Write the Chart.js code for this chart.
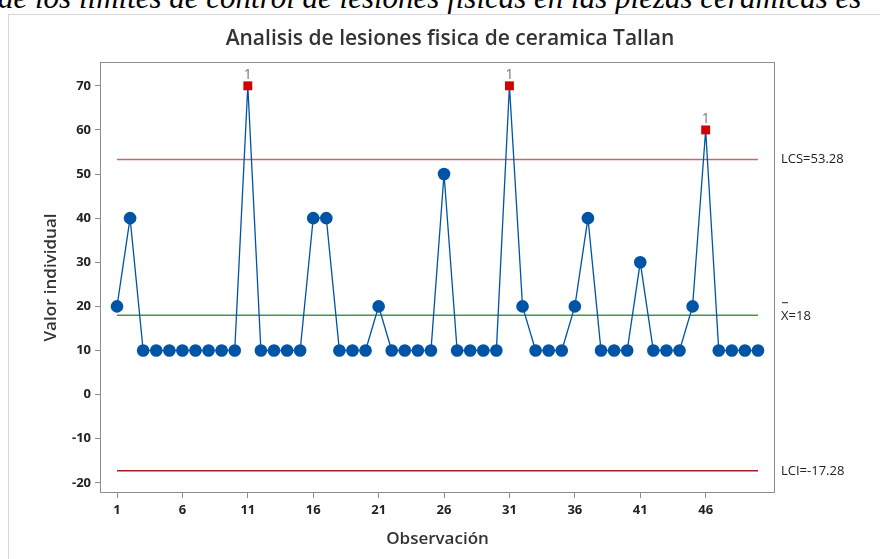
<!DOCTYPE html>
<html>
<head>
<meta charset="utf-8">
<script src="https://cdn.jsdelivr.net/npm/chart.js@4"></script>
<style>
  html, body { margin: 0; padding: 0; background: #fff; overflow: hidden; }
  #wrap { position: relative; width: 880px; height: 559px; }
  #cap { position: absolute; left: -2px; top: -20px; white-space: nowrap;
         font: italic 31px "Liberation Serif", serif; color: #000; }
  canvas { position: absolute; left: 0; top: 0; }
</style>
</head>
<body>
<div id="wrap">
  <div id="cap">de los límites de control de lesiones físicas en las piezas cerámicas es</div>
  <canvas id="chartI" width="880" height="559"></canvas>
</div>
<script>
// ============= DATOS =============
const observaciones = [];
for (let i = 1; i <= 50; i++) observaciones.push(i);
const valores = [20, 40, 10, 10, 10, 10, 10, 10, 10, 10,
                 70, 10, 10, 10, 10, 40, 40, 10, 10, 10,
                 20, 10, 10, 10, 10, 50, 10, 10, 10, 10,
                 70, 20, 10, 10, 10, 20, 40, 10, 10, 10,
                 30, 10, 10, 10, 20, 60, 10, 10, 10, 10];
const LCS = 53.28;
const MEDIA = 18;
const LCI = -17.28;
const xTicks = [1, 6, 11, 16, 21, 26, 31, 36, 41, 46];
const yTicks = [-20, -10, 0, 10, 20, 30, 40, 50, 60, 70];

// ============= CORES =============
const CORES = {
    azul: '#0054a6',
    rojo: '#d40000',
    lcs: '#c06a6a',
    lci: '#a31f24',
    verde: '#3f9a46',
    eje: '#8c8c8c',
    texto: '#333333'
};

const fuera = valores.map(v => v > LCS || v < LCI);
const puntos = observaciones.map((o, i) => ({ x: o, y: valores[i] }));
const linea = (y) => [{ x: observaciones[0], y }, { x: observaciones[observaciones.length - 1], y }];

const decoraciones = {
    id: 'decoraciones',
    beforeDraw(chart) {
        const ctx = chart.ctx;
        ctx.save();
        ctx.strokeStyle = '#d6d6d6';
        ctx.lineWidth = 1;
        ctx.strokeRect(8.5, 14.5, 900, 600);
        ctx.restore();
    },
    afterDraw(chart) {
        const { ctx, chartArea: a, scales: { x, y } } = chart;
        ctx.save();
        // marco del area
        ctx.strokeStyle = CORES.eje;
        ctx.lineWidth = 1;
        ctx.strokeRect(a.left + 0.5, a.top + 0.5, a.right - a.left - 1, a.bottom - a.top - 1);

        // titulo
        ctx.fillStyle = CORES.texto;
        ctx.font = '600 21px "Open Sans"';
        ctx.textAlign = 'center';
        ctx.textBaseline = 'middle';
        ctx.fillText('Analisis de lesiones fisica de ceramica Tallan', 450, 39);

        // etiquetas "1"
        ctx.fillStyle = '#777';
        ctx.font = '14px "Open Sans"';
        ctx.textBaseline = 'alphabetic';
        puntos.forEach((p, i) => {
            if (fuera[i]) ctx.fillText('1', x.getPixelForValue(p.x), y.getPixelForValue(p.y) - 7);
        });

        // etiquetas de limites
        ctx.fillStyle = '#222';
        ctx.font = '13px "Open Sans"';
        ctx.textAlign = 'left';
        ctx.textBaseline = 'middle';
        const lx = a.right + 6;
        ctx.fillText('LCS=' + LCS.toFixed(2), lx, y.getPixelForValue(LCS));
        ctx.fillText('LCI=' + LCI.toFixed(2), lx, y.getPixelForValue(LCI));
        const ym = y.getPixelForValue(MEDIA) + 1;
        ctx.fillText('X=' + MEDIA, lx, ym);
        ctx.strokeStyle = '#222';
        ctx.beginPath();
        ctx.moveTo(lx + 1, ym - 13.5);
        ctx.lineTo(lx + 7, ym - 13.5);
        ctx.stroke();
        ctx.restore();
    }
};

new Chart(document.getElementById('chartI'), {
    type: 'line',
    data: {
        datasets: [
            { data: linea(LCS), borderColor: CORES.lcs, borderWidth: 1.5, pointRadius: 0, order: 3 },
            { data: linea(MEDIA), borderColor: CORES.verde, borderWidth: 1.5, pointRadius: 0, order: 3 },
            { data: linea(LCI), borderColor: CORES.lci, borderWidth: 1.5, pointRadius: 0, order: 3 },
            {
                data: puntos,
                borderColor: CORES.azul,
                borderWidth: 1.3,
                tension: 0,
                pointRadius: 6.3,
                pointStyle: fuera.map(f => f ? 'rect' : 'circle'),
                pointBackgroundColor: fuera.map(f => f ? CORES.rojo : CORES.azul),
                pointBorderColor: fuera.map(f => f ? CORES.rojo : CORES.azul),
                pointBorderWidth: 0,
                order: 1
            }
        ]
    },
    options: {
        responsive: false,
        animation: false,
        devicePixelRatio: 1,
        layout: { padding: { left: 37, right: 105, top: 62, bottom: 6 } },
        plugins: { legend: { display: false }, tooltip: { enabled: false }, title: { display: false } },
        scales: {
            x: {
                type: 'linear',
                min: -0.3,
                max: 51.3,
                afterBuildTicks: (s) => { s.ticks = xTicks.map(v => ({ value: v })); },
                afterFit: (s) => { s.height = 60; },
                grid: { drawOnChartArea: false, drawTicks: true, tickLength: 5, color: CORES.eje },
                border: { display: false },
                ticks: { color: '#222', font: { family: 'Open Sans', size: 13, weight: 'bold' }, padding: 4, maxRotation: 0 },
                title: { display: true, text: 'Observación', color: CORES.texto,
                         font: { family: 'Open Sans', size: 17, weight: '600' }, padding: { top: 8 } }
            },
            y: {
                min: -22.3,
                max: 75.4,
                afterBuildTicks: (s) => { s.ticks = yTicks.map(v => ({ value: v })); },
                afterFit: (s) => { s.width = 63; },
                grid: { drawOnChartArea: false, drawTicks: true, tickLength: 5, color: CORES.eje },
                border: { display: false },
                ticks: { color: '#222', font: { family: 'Open Sans', size: 13, weight: 'bold' }, padding: 4 },
                title: { display: true, text: 'Valor individual', color: CORES.texto,
                         font: { family: 'Open Sans', size: 17, weight: '600' }, padding: { bottom: 0 } }
            }
        }
    },
    plugins: [decoraciones]
});
</script>
</body>
</html>
